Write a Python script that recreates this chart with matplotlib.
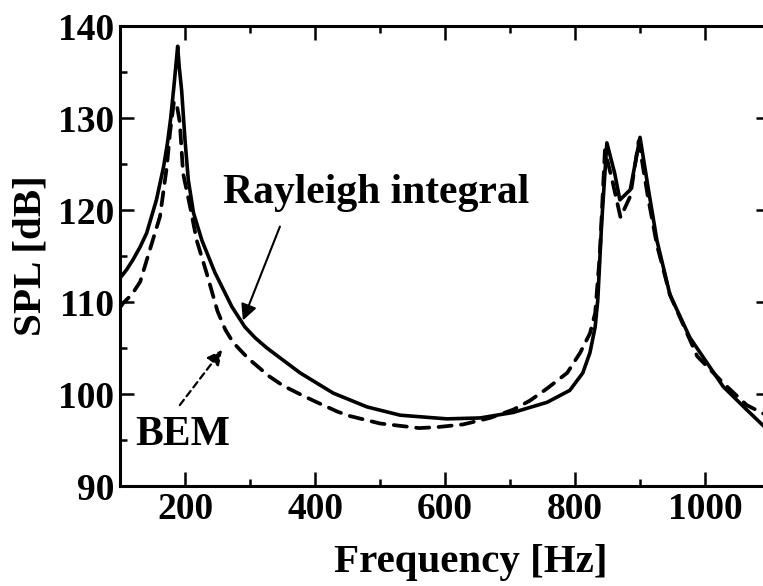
import matplotlib
matplotlib.use("Agg")
from matplotlib import pyplot as plt
from matplotlib.ticker import MultipleLocator

# Rayleigh integral (solid) - frequency [Hz], SPL [dB]
rayleigh_f = [100, 110, 120, 131, 141, 156, 167, 173, 178, 183, 188.7, 191, 194.8,
              200, 205, 213, 226, 246, 272, 292, 308, 326, 377, 428, 480, 531, 603,
              654, 705, 757, 792, 812, 823, 831, 835, 841, 849, 861, 869,
              885, 900, 913, 926, 946, 977, 1028, 1064, 1089, 1100]
rayleigh_spl = [112.6, 113.5, 114.6, 116.0, 117.5, 121.1, 124.7, 127.3, 130.0, 133.5, 137.8, 135.6, 133.0,
                127.6, 123.3, 119.7, 116.7, 113.2, 109.5, 107.3, 106.1, 105.0, 102.3, 100.1, 98.6, 97.7, 97.3,
                97.4, 98.0, 99.1, 100.4, 102.3, 104.5, 107.3, 110.2, 118.6, 127.3, 124.0, 121.1,
                122.2, 127.9, 122.2, 116.7, 110.8, 106.1, 100.8, 98.3, 96.6, 95.9]

# BEM (dashed)
bem_f = [100, 105, 118, 131, 146, 161.5, 172, 177, 183, 187, 192, 197, 208,
         218, 233, 250, 262, 274, 290, 300, 330, 351, 382, 403, 434, 454, 500, 560, 588,
         628, 669, 705, 731, 757, 788, 808, 823, 831, 838, 846, 858,
         870, 885, 898, 912, 926, 946, 988, 1028, 1064, 1089, 1100]
bem_spl = [109.4, 109.9, 110.8, 112.2, 115.7, 119.3, 124.7, 128.5, 131.8, 131.6, 129.5, 124.0, 120.3,
           116.7, 113.2, 109.0, 107.0, 105.6, 104.4, 103.7, 101.9, 100.9, 99.8, 99.1, 98.1, 97.6, 96.8, 96.3, 96.4,
           96.7, 97.4, 98.3, 99.3, 100.6, 102.3, 104.5, 106.6, 108.8, 115.0, 126.5, 123.0,
           119.2, 121.5, 127.5, 121.5, 116.2, 110.8, 104.1, 101.2, 98.8, 97.9, 97.5]

plt.rcParams['font.family'] = ['Liberation Serif', 'DejaVu Serif']
plt.rcParams['font.weight'] = 'bold'

fig = plt.figure(figsize=(7.63, 5.86), dpi=100)
# right spine falls just outside the picture, as in the scanned figure
ax = fig.add_axes([0.1573, 0.1706, 0.8519, 0.785])

ax.plot(rayleigh_f, rayleigh_spl, color='black', lw=2.6, solid_joinstyle='round')
ax.plot(bem_f, bem_spl, color='black', lw=2.7, ls=(0, (3.5, 2.5)), dash_capstyle='round')

ax.set_xlim(100, 1100)
ax.set_ylim(90, 140)
ax.xaxis.set_minor_locator(MultipleLocator(100))
ax.yaxis.set_major_locator(MultipleLocator(10))
ax.yaxis.set_minor_locator(MultipleLocator(5))
ax.set_xticks([200, 400, 600, 800, 1000])

ax.tick_params(which='both', direction='in', top=True, right=True, width=1.8)
ax.tick_params(which='major', length=10, pad=4, labelsize=27)
ax.tick_params(which='minor', length=5)
for sp in ax.spines.values():
    sp.set_linewidth(2.2)
for lbl in ax.get_xticklabels() + ax.get_yticklabels():
    lbl.set_fontweight('bold')

ax.set_xlabel("Frequency [Hz]", fontsize=29.5, fontweight='bold')
ax.set_ylabel("SPL [dB]", fontsize=29.5, fontweight='bold')
ax.xaxis.set_label_coords(0.54, -0.125)
ax.yaxis.set_label_coords(-0.108, 0.5)

ax.text(258, 120.8, "Rayleigh integral", fontsize=30, fontweight='bold', ha='left', va='baseline')
ax.text(123, 94.5, "BEM", fontsize=30, fontweight='bold', ha='left', va='baseline')

ax.annotate('', xy=(289, 108.0), xytext=(346, 118.2),
            arrowprops=dict(arrowstyle='-|>', color='black', lw=1.5,
                            mutation_scale=24, shrinkA=0, shrinkB=0))
ax.annotate('', xy=(257, 104.8), xytext=(192, 98.8),
            arrowprops=dict(arrowstyle='-|>', color='black', lw=1.6, ls=(0, (3, 2)),
                            mutation_scale=22, shrinkA=0, shrinkB=0))

fig.savefig("out.png", dpi=100)
